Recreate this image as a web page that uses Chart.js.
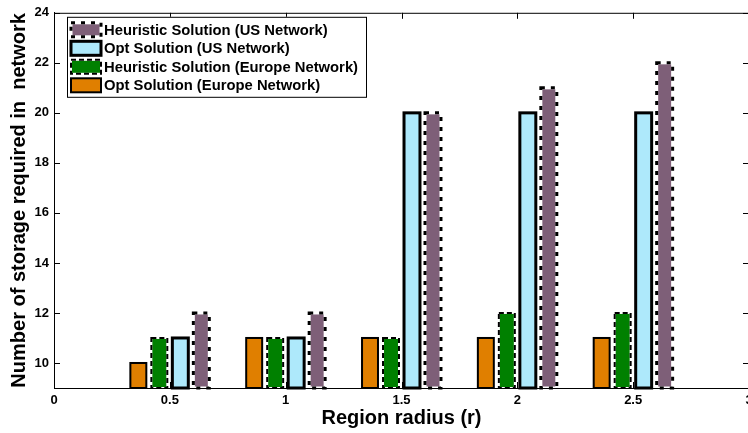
<!DOCTYPE html>
<html>
<head>
<meta charset="utf-8">
<script src="https://cdn.jsdelivr.net/npm/chart.js@4.4.1/dist/chart.umd.min.js"></script>
<style>
  html, body { margin: 0; padding: 0; background: #fff; overflow: hidden; }
  #wrap { width: 760px; height: 433px; }
</style>
</head>
<body>
<div id="wrap"><canvas id="storageChart" width="760" height="433"></canvas></div>
<script>
// Region radius for each bar group
const radii = [0.5, 1, 1.5, 2, 2.5];

// Storage needed per series
const optEurope = [10, 11, 11, 11, 11];
const heurEurope = [11, 11, 11, 12, 12];
const optUS = [11, 11, 20, 20, 20];
const heurUS = [12, 12, 20, 21, 22];

// Axis ticks
const xTicks = [0, 0.5, 1, 1.5, 2, 2.5, 3];
const yTicks = [10, 12, 14, 16, 18, 20, 22, 24];

const FONT = "'Liberation Sans', Arial, Helvetica, sans-serif";

function points(values) {
  return radii.map((r, i) => ({ x: r, y: values[i] }));
}

// Outline a rect, dashed outlines get a white line underneath
function strokeEdge(ctx, x, y, w, h, edge) {
  ctx.save();
  ctx.lineWidth = edge.width;
  ctx.lineJoin = "miter";
  if (edge.dash) {
    ctx.strokeStyle = "#fff";
    ctx.strokeRect(x, y, w, h);
    ctx.setLineDash(edge.dash);
  }
  ctx.strokeStyle = "#000";
  ctx.strokeRect(x, y, w, h);
  ctx.restore();
}

// Bar borders (Chart.js bars can't do dashed borders)
const barEdges = {
  id: "barEdges",
  afterDatasetsDraw(chart) {
    const ctx = chart.ctx;
    const bottom = chart.chartArea.bottom;
    chart.data.datasets.forEach((ds, i) => {
      chart.getDatasetMeta(i).data.forEach((bar) => {
        const base = Math.min(bar.base, bottom);
        const top = Math.min(bar.y, base);
        const h = Math.abs(base - bar.y);
        strokeEdge(ctx, bar.x - bar.width / 2, top, bar.width, h, ds.edge);
      });
    });
  },
};

// Box around the plot with inward ticks on all four sides
const boxFrame = {
  id: "boxFrame",
  afterDatasetsDraw(chart) {
    const { ctx, chartArea: a, scales } = chart;
    const len = 6;
    ctx.save();
    ctx.strokeStyle = "#000";
    ctx.lineWidth = 1;
    ctx.beginPath();
    ctx.moveTo(a.left, a.top + 0.5);
    ctx.lineTo(a.right, a.top + 0.5);
    ctx.moveTo(a.right - 0.5, a.top);
    ctx.lineTo(a.right - 0.5, a.bottom);
    xTicks.forEach((v) => {
      const px = Math.round(scales.x.getPixelForValue(v)) + 0.5;
      ctx.moveTo(px, a.bottom);
      ctx.lineTo(px, a.bottom - len);
      ctx.moveTo(px, a.top);
      ctx.lineTo(px, a.top + len);
    });
    yTicks.forEach((v) => {
      const py = Math.round(scales.y.getPixelForValue(v)) + 0.5;
      ctx.moveTo(a.left, py);
      ctx.lineTo(a.left + len, py);
      ctx.moveTo(a.right, py);
      ctx.lineTo(a.right - len, py);
    });
    ctx.stroke();
    // redraw the bottom axis over the bar edges
    ctx.beginPath();
    ctx.moveTo(a.left, a.bottom + 0.5);
    ctx.lineTo(a.right, a.bottom + 0.5);
    ctx.stroke();
    ctx.restore();
  },
};

// Legend box in the upper left of the plot, last series first
const boxLegend = {
  id: "boxLegend",
  afterDraw(chart) {
    const { ctx, chartArea: a } = chart;
    const items = chart.data.datasets.slice().reverse();
    const bx = a.left + 13, by = a.top + 4, bw = 299, bh = 80;
    ctx.save();
    ctx.fillStyle = "#fff";
    ctx.fillRect(bx, by, bw, bh);
    ctx.strokeStyle = "#000";
    ctx.lineWidth = 1;
    ctx.strokeRect(bx + 0.5, by + 0.5, bw, bh);
    ctx.font = "bold 14.8px " + FONT;
    ctx.textBaseline = "middle";
    items.forEach((ds, i) => {
      const cy = by + 13 + i * 18.5;
      ctx.fillStyle = ds.backgroundColor;
      ctx.fillRect(bx + 4, cy - 7, 30, 14);
      strokeEdge(ctx, bx + 4, cy - 7, 30, 14, ds.edge);
      ctx.fillStyle = "#000";
      ctx.fillText(ds.label, bx + 37, cy + 1);
    });
    ctx.restore();
  },
};

new Chart(document.getElementById("storageChart"), {
  type: "bar",
  data: {
    datasets: [
      {
        label: "Opt Solution (Europe Network)",
        data: points(optEurope),
        backgroundColor: "#E07F00",
        edge: { width: 2 },
      },
      {
        label: "Heuristic Solution (Europe Network)",
        data: points(heurEurope),
        backgroundColor: "#008000",
        edge: { width: 2, dash: [5, 3] },
      },
      {
        label: "Opt Solution (US Network)",
        data: points(optUS),
        backgroundColor: "#AEE9FB",
        edge: { width: 3 },
      },
      {
        label: "Heuristic Solution (US Network)",
        data: points(heurUS),
        backgroundColor: "#7E5F78",
        edge: { width: 3, dash: [4, 6] },
      },
    ],
  },
  options: {
    responsive: false,
    animation: false,
    datasets: {
      bar: { borderWidth: 0, categoryPercentage: 0.725, barPercentage: 0.76 },
    },
    layout: { padding: { left: 0, top: 10, right: 11, bottom: 0 } },
    plugins: { legend: { display: false }, tooltip: { enabled: false } },
    scales: {
      x: {
        type: "linear",
        min: 0,
        max: 3,
        offset: false,
        grid: { display: false, drawTicks: false },
        border: { display: true, color: "#000", width: 1 },
        afterBuildTicks: (s) => { s.ticks = xTicks.map((v) => ({ value: v })); },
        afterFit: (s) => { s.height = 45; },
        ticks: {
          color: "#000",
          padding: 5,
          maxRotation: 0,
          font: { family: FONT, size: 13, weight: "bold" },
          callback: (v) => String(v),
        },
        title: {
          display: true,
          text: "Region radius (r)",
          color: "#000",
          padding: { top: 0, bottom: 3 },
          font: { family: FONT, size: 20, weight: "bold" },
        },
      },
      y: {
        min: 9,
        max: 24,
        grid: { display: false, drawTicks: false },
        border: { display: true, color: "#000", width: 1 },
        afterBuildTicks: (s) => { s.ticks = yTicks.map((v) => ({ value: v })); },
        afterFit: (s) => { s.width = 54; },
        ticks: {
          color: "#000",
          padding: 5,
          font: { family: FONT, size: 13, weight: "bold" },
        },
        title: {
          display: true,
          text: "Number of storage required in  network",
          color: "#000",
          padding: { top: 7, bottom: 0 },
          font: { family: FONT, size: 20, weight: "bold" },
        },
      },
    },
  },
  plugins: [barEdges, boxFrame, boxLegend],
});
</script>
</body>
</html>
